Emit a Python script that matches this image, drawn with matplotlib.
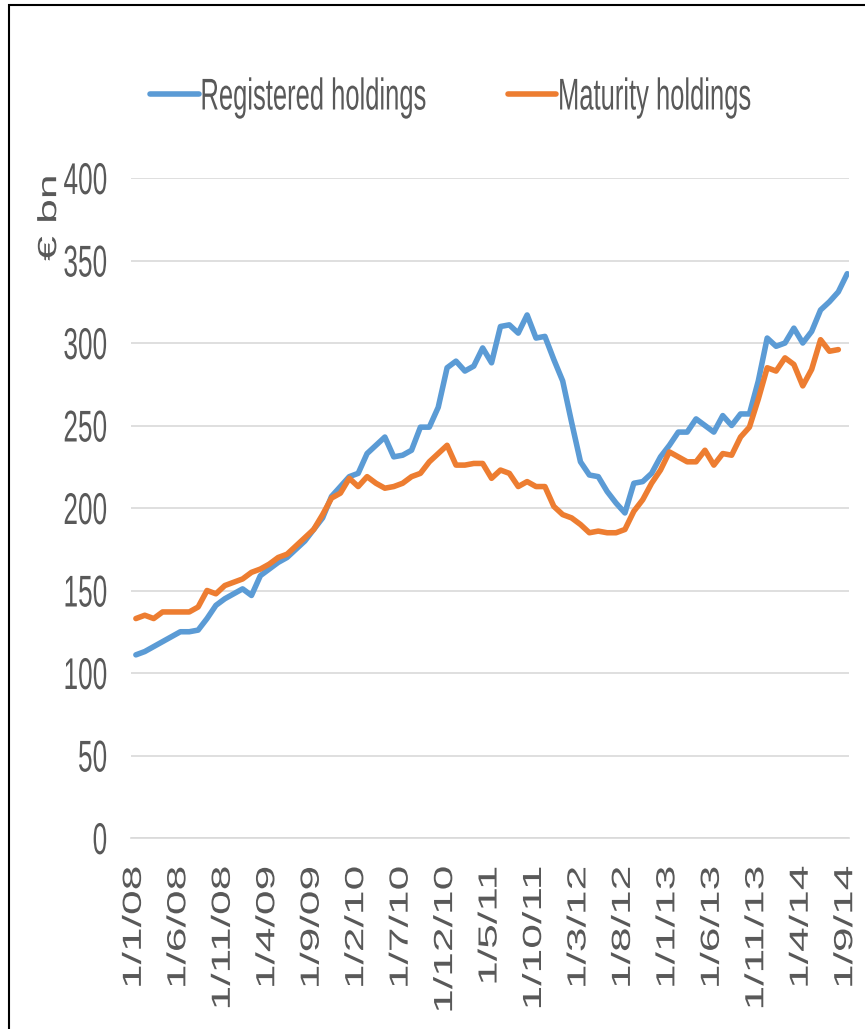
import numpy as np
import matplotlib
matplotlib.use('Agg')
from matplotlib import pyplot as plt
from matplotlib.patheffects import AbstractPathEffect
from matplotlib.transforms import Affine2D
from matplotlib.patches import Rectangle
from matplotlib.path import Path

## data (monthly, 1/1/08 .. 1/9/14), EUR bn ---------
registered = [111, 113, 116, 119, 122, 125, 125, 126, 133, 141,
              145, 148, 151, 147, 159, 163, 167, 170, 175, 180,
              187, 194, 207, 213, 219, 221, 233, 238, 243, 231,
              232, 235, 249, 249, 261, 285, 289, 283, 286, 297,
              288, 310, 311, 306, 317, 303, 304, 290, 277, 252,
              228, 220, 219, 210, 203, 197, 215, 216, 221, 231,
              238, 246, 246, 254, 250, 246, 256, 250, 257, 257,
              277, 303, 298, 300, 309, 300, 307, 320, 325, 331,
              342]
maturity = [133, 135, 133, 137, 137, 137, 137, 140, 150, 148,
            153, 155, 157, 161, 163, 166, 170, 172, 177, 182,
            187, 196, 206, 209, 218, 213, 219, 215, 212, 213,
            215, 219, 221, 228, 233, 238, 226, 226, 227, 227,
            218, 223, 221, 213, 216, 213, 213, 201, 196, 194,
            190, 185, 186, 185, 185, 187, 198, 205, 215, 223,
            234, 231, 228, 228, 235, 226, 233, 232, 243, 249,
            266, 285, 283, 291, 287, 274, 284, 302, 295, 296]
tick_labels = ['1/1/08', '1/6/08', '1/11/08', '1/4/09', '1/9/09', '1/2/10',
               '1/7/10', '1/12/10', '1/5/11', '1/10/11', '1/3/12', '1/8/12',
               '1/1/13', '1/6/13', '1/11/13', '1/4/14', '1/9/14']
y_ticks = [0, 50, 100, 150, 200, 250, 300, 350, 400]

BLUE = '#5B9BD5'
ORANGE = '#ED7D31'
TEXT = '#595959'
GRID = '#D9D9D9'
FS = 32


class Squeeze(AbstractPathEffect):
    # the reference text is drawn narrow, so squeeze glyphs sideways
    def __init__(self, sx=0.59, anchor='center'):
        super().__init__()
        self.sx = sx
        self.anchor = anchor

    def draw_path(self, renderer, gc, tpath, affine, rgbFace=None):
        v = tpath.vertices
        if tpath.codes is not None:
            v = v[tpath.codes != Path.CLOSEPOLY]
        if len(v) == 0:
            return
        xs = affine.transform(v)[:, 0]
        if self.anchor == 'left':
            cx = xs.min()
        elif self.anchor == 'right':
            cx = xs.max()
        else:
            cx = (xs.min() + xs.max()) / 2
        squeeze = Affine2D().translate(-cx, 0).scale(self.sx, 1).translate(cx, 0)
        renderer.draw_path(gc, tpath, affine + squeeze, rgbFace)


plt.rcParams['font.family'] = ['Liberation Sans', 'DejaVu Sans']

W, H = 865, 1029
fig = plt.figure(figsize=(W / 100, H / 100), dpi=100)
ax = fig.add_axes([131 / W, (H - 838) / H, 718 / W, 660 / H])

x_reg = np.arange(len(registered))
x_mat = np.arange(len(maturity))
ax.plot(x_reg, registered, color=BLUE, lw=4.0, solid_joinstyle='round',
        solid_capstyle='round', label='Registered holdings')
ax.plot(x_mat, maturity, color=ORANGE, lw=4.0, solid_joinstyle='round',
        solid_capstyle='round', label='Maturity holdings')

ax.set_xlim(-0.55, 80.2)
ax.set_ylim(0, 400)
ax.set_yticks(y_ticks)
ax.set_xticks(np.arange(0, len(registered), 5), tick_labels, rotation=90)
ax.grid(axis='y', color=GRID, lw=1.2)
ax.set_axisbelow(True)
for s in ['left', 'right', 'top']:
    ax.spines[s].set_visible(False)
ax.spines['bottom'].set_color(GRID)
ax.spines['bottom'].set_linewidth(1.2)
ax.tick_params(axis='both', length=0, labelsize=FS, labelcolor=TEXT)
ax.tick_params(axis='x', pad=20)
ax.tick_params(axis='y', pad=16.6)

ax.set_ylabel('€ bn', fontsize=FS, color=TEXT)
ax.yaxis.set_label_coords(-0.092, 0.94)

leg = ax.legend(loc='center left', bbox_to_anchor=(150 / W, 1 - 98 / H),
                bbox_transform=fig.transFigure, ncol=2, frameon=False,
                fontsize=FS, handlelength=1.1, handletextpad=0.0,
                columnspacing=-1.9, borderpad=0, borderaxespad=0,
                labelcolor=TEXT)

for t in ax.get_xticklabels():
    t.set_path_effects([Squeeze(anchor='center')])
for t in ax.get_yticklabels():
    t.set_path_effects([Squeeze(anchor='right')])
ax.yaxis.label.set_path_effects([Squeeze(anchor='right')])
for t in leg.get_texts():
    t.set_path_effects([Squeeze(sx=0.575, anchor='left')])

# thin black frame (left and top edges visible in the reference)
fig.patches.append(Rectangle((9 / W, -0.05), 1.1, 1.05 - 5 / H,
                             transform=fig.transFigure, fill=False,
                             ec='black', lw=1.5))

plt.savefig('out.png', dpi=100)
